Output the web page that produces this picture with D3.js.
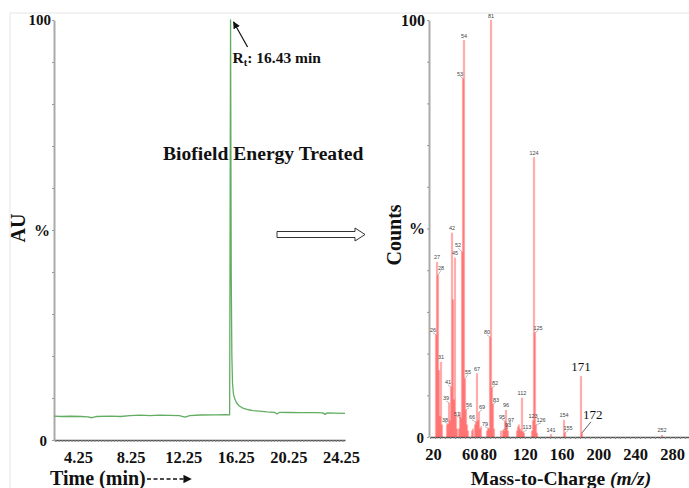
<!DOCTYPE html>
<html>
<head>
<meta charset="utf-8">
<script src="https://cdn.jsdelivr.net/npm/d3@7"></script>
<style>
  body { margin: 0; background: #fff; }
  svg { display: block; }
  .serif { font-family: "Liberation Serif", "Times New Roman", serif; font-weight: bold; fill: #111; }
</style>
</head>
<body>
<div id="chart"></div>
<script>
// chromatogram (left): time in min, AU %
const timeMin = [2.9, 3.5, 4.13, 5.0, 5.5, 5.81, 6.2, 7.19, 8.0, 8.72, 9.5, 10.26, 11.0, 11.79, 12.5, 12.94, 13.3,
  14.09, 15.24, 16.0, 16.36, 16.43, 16.48, 16.53, 16.58, 16.65, 16.75, 16.9, 17.1, 17.38, 17.8, 18.15, 19.22, 19.8,
  19.99, 20.2, 20.98, 21.75, 22.9, 23.5, 23.67, 23.85, 24.43, 25.2];
const auPercent = [5.7, 5.6, 5.65, 5.6, 5.5, 5.3, 5.6, 5.7, 5.6, 5.8, 5.9, 5.8, 5.9, 5.85, 5.8, 5.45, 5.8,
  5.95, 6.0, 6.05, 6.0, 100, 40, 20, 13.5, 11, 9.8, 8.8, 8.1, 7.6, 7.2, 7.0, 6.7, 6.6,
  6.2, 6.6, 6.55, 6.5, 6.5, 6.45, 6.1, 6.45, 6.4, 6.35];
const timeTickValues = [4.25, 8.25, 12.25, 16.25, 20.25, 24.25];
const retentionTime = 16.43;

// mass spectrum (right): m/z and relative counts %
const mzValues = [26, 27, 28, 29, 30, 31, 32, 37, 38, 39, 40, 41, 42, 43, 44, 45, 46, 47, 49, 50, 51, 52, 53, 54, 55,
  56, 57, 58, 62, 63, 65, 66, 67, 68, 69, 70, 71, 77, 78, 79, 80, 81, 82, 83, 84, 91, 93, 94, 95, 96, 97, 98,
  107, 108, 109, 110, 111, 112, 113, 114, 122, 123, 124, 125, 126, 127, 141, 154, 155, 171, 172, 252];
const mzCounts = [24.5, 42, 38.8, 16, 5, 18, 3, 3, 3.1, 8.2, 4, 12, 49, 33, 9, 43, 5, 2, 2, 6, 4.5, 44.4, 86, 95.2, 14,
  6.5, 3, 1.5, 1.5, 2, 3, 3.6, 15.3, 4, 6, 2, 2.5, 1.5, 2, 2, 24, 100, 11.8, 7.9, 2, 1.5, 1.7, 1.5, 3.8, 6.5, 3.1, 1.5,
  1.5, 2.5, 3, 2, 1.5, 9.4, 1.2, 1, 1.5, 4, 67.1, 25, 2.9, 1, 0.7, 4.1, 1, 14.6, 1, 0.5];
const mzLabeled = [26, 27, 28, 31, 38, 39, 41, 42, 45, 51, 52, 53, 54, 55, 56, 66, 67, 69, 79, 80, 81, 82, 83,
  93, 95, 96, 97, 112, 113, 123, 124, 125, 126, 141, 154, 155, 252];
const mzBigLabels = [171, 172];
const mzTickValues = [20, 60, 80, 120, 160, 200, 240, 280];

// small label shifts so crowded labels sit like the original
const labelShift = {26: [-3, 0], 28: [3, -3], 38: [-3, 0], 39: [-3, 0], 41: [-3, 0], 51: [-4, 0], 52: [-4, -2],
  53: [-3, 0], 55: [3, -2], 56: [3, 0], 66: [-4, 0], 69: [3, 0], 79: [-4, 0], 80: [-3, 0], 82: [3, 0], 83: [3, 0],
  93: [5, 0], 95: [-3, 0], 97: [4, 0], 113: [4, 0], 125: [3, 0], 126: [5, 0], 155: [3, 0]};

const svg = d3.select('#chart').append('svg')
  .attr('width', 689)
  .attr('height', 488);

const defs = svg.append('defs');
defs.append('marker').attr('id', 'head')
  .attr('viewBox', '0 0 10 10').attr('refX', 9).attr('refY', 5)
  .attr('markerWidth', 6).attr('markerHeight', 6).attr('orient', 'auto')
  .append('path').attr('d', 'M0,0 L10,5 L0,10 z').attr('fill', '#111');

// faint frame of the figure
svg.append('line').attr('x1', 10).attr('x2', 689).attr('y1', 13).attr('y2', 13).attr('stroke', '#e6e6e6');
svg.append('line').attr('x1', 10).attr('x2', 10).attr('y1', 13).attr('y2', 488).attr('stroke', '#e6e6e6');

// ---------- LEFT: chromatogram ----------
const xTime = d3.scaleLinear().domain([2.9, 25.2]).range([54, 345]);
const xTimeLabels = d3.scaleLinear().domain([4.25, 24.25]).range([78, 341]);
const yAU = d3.scaleLinear().domain([0, 100]).range([440, 20]);

const minorTimes = d3.range(3, 25.01, 0.25);
svg.append('g')
  .attr('transform', 'translate(0,440)')
  .call(d3.axisBottom(xTime).tickValues(minorTimes).tickSize(2).tickSizeOuter(0).tickFormat(''))
  .call(g => g.select('.domain').attr('stroke', '#555').attr('stroke-width', 1.3))
  .call(g => g.selectAll('.tick line').attr('stroke', '#888'));

svg.append('g')
  .attr('transform', 'translate(0,440)')
  .call(d3.axisBottom(xTimeLabels).tickValues(timeTickValues).tickSize(0).tickPadding(11).tickFormat(d3.format('.2f')))
  .call(g => g.select('.domain').remove())
  .call(g => g.selectAll('text').attr('class', 'serif').attr('font-size', 16.5).attr('fill', '#111'));

svg.append('g')
  .attr('transform', 'translate(54,0)')
  .call(d3.axisLeft(yAU).tickValues(d3.range(0, 101, 10)).tickSize(2).tickSizeOuter(0).tickFormat(''))
  .call(g => g.select('.domain').attr('stroke', '#aaa').attr('stroke-width', 2))
  .call(g => g.selectAll('.tick line').attr('stroke', '#999'));

svg.append('text').attr('class', 'serif').attr('font-size', 15)
  .attr('x', 51).attr('y', yAU(100) + 5).attr('text-anchor', 'end').text('100');
svg.append('text').attr('class', 'serif').attr('font-size', 15)
  .attr('x', 47).attr('y', yAU(0) + 6).attr('text-anchor', 'end').text('0');
svg.append('text').attr('class', 'serif').attr('font-size', 16)
  .attr('x', 42).attr('y', yAU(50) + 6).attr('text-anchor', 'middle').text('%');
svg.append('text').attr('class', 'serif').attr('font-size', 20)
  .attr('transform', `translate(25,${yAU(50) - 2}) rotate(-90)`).attr('text-anchor', 'middle').text('AU');

const auLine = d3.line().x((d, i) => xTime(timeMin[i])).y(d => yAU(d));
svg.append('path')
  .attr('d', auLine(auPercent))
  .attr('fill', 'none')
  .attr('stroke', '#62ad62')
  .attr('stroke-width', 1.3)
  .attr('stroke-linejoin', 'round');

// retention time note
svg.append('line')
  .attr('x1', xTime(retentionTime) + 17).attr('y1', yAU(100) + 27)
  .attr('x2', xTime(retentionTime) + 3).attr('y2', yAU(100) + 2)
  .attr('stroke', '#111').attr('stroke-width', 1.2).attr('marker-end', 'url(#head)');
const rt = svg.append('text').attr('class', 'serif').attr('font-size', 15.5)
  .attr('x', xTime(retentionTime) + 2).attr('y', 63);
rt.append('tspan').text('R');
rt.append('tspan').attr('font-size', 10.5).attr('dy', 3).text('t');
rt.append('tspan').attr('dy', -3).text(': ' + retentionTime.toFixed(2) + ' min');

svg.append('text').attr('class', 'serif').attr('font-size', 19.6)
  .attr('x', 163).attr('y', 160).text('Biofield Energy Treated');

// hollow arrow between the two panels
svg.append('path')
  .attr('d', 'M277,231.5 L355,231.5 L355,228 L365,234.5 L355,241 L355,237.5 L277,237.5 Z')
  .attr('fill', '#fff').attr('stroke', '#333').attr('stroke-width', 1);

svg.append('text').attr('class', 'serif').attr('font-size', 20)
  .attr('x', 50).attr('y', 485).text('Time (min)');
svg.append('line')
  .attr('x1', 147).attr('x2', 191).attr('y1', 479).attr('y2', 479)
  .attr('stroke', '#111').attr('stroke-width', 1.4).attr('stroke-dasharray', '4,2.5')
  .attr('marker-end', 'url(#head)');

// ---------- RIGHT: mass spectrum ----------
const xMz = d3.scaleLinear().domain([20, 279]).range([430, 689]);
const xMzLabels = d3.scaleLinear().domain([20, 280]).range([433, 672]);
const yMz = d3.scaleLinear().domain([0, 100]).range([437, 20]);

svg.append('g')
  .attr('transform', 'translate(0,437)')
  .call(d3.axisBottom(xMz).tickValues(d3.range(20, 280, 5)).tickSize(2).tickSizeOuter(0).tickFormat(''))
  .call(g => g.select('.domain').attr('stroke', '#555').attr('stroke-width', 1.3))
  .call(g => g.selectAll('.tick line').attr('stroke', '#888'));

svg.append('g')
  .attr('transform', 'translate(0,437)')
  .call(d3.axisBottom(xMzLabels).tickValues(mzTickValues).tickSize(0).tickPadding(11).tickFormat(d3.format('d')))
  .call(g => g.select('.domain').remove())
  .call(g => g.selectAll('text').attr('class', 'serif').attr('font-size', 16.5).attr('fill', '#111'));

svg.append('g')
  .attr('transform', 'translate(429,0)')
  .call(d3.axisLeft(yMz).tickValues(d3.range(0, 101, 10)).tickSize(2).tickSizeOuter(0).tickFormat(''))
  .call(g => g.select('.domain').attr('stroke', '#aaa').attr('stroke-width', 2))
  .call(g => g.selectAll('.tick line').attr('stroke', '#999'));

svg.append('text').attr('class', 'serif').attr('font-size', 16)
  .attr('x', 425).attr('y', yMz(100) + 6).attr('text-anchor', 'end').text('100');
svg.append('text').attr('class', 'serif').attr('font-size', 15)
  .attr('x', 424).attr('y', yMz(0) + 6).attr('text-anchor', 'end').text('0');
svg.append('text').attr('class', 'serif').attr('font-size', 16)
  .attr('x', 417).attr('y', yMz(50) + 5).attr('text-anchor', 'middle').text('%');
svg.append('text').attr('class', 'serif').attr('font-size', 20)
  .attr('transform', `translate(401,235) rotate(-90)`).attr('text-anchor', 'middle').text('Counts');

const peaks = mzValues.map((m, i) => ({ mz: m, v: mzCounts[i] }));

svg.append('g')
  .selectAll('line')
  .data(peaks)
  .join('line')
  .attr('x1', d => xMz(d.mz)).attr('x2', d => xMz(d.mz))
  .attr('y1', yMz(0)).attr('y2', d => yMz(d.v))
  .attr('stroke', 'rgb(255,40,40)')
  .attr('stroke-opacity', 0.38)
  .attr('stroke-width', 2.2);

const labeled = peaks.filter(d => mzLabeled.includes(d.mz));
const lab = svg.append('g').selectAll('g')
  .data(labeled)
  .join('g');
lab.filter(d => labelShift[d.mz])
  .append('line')
  .attr('x1', d => xMz(d.mz) + labelShift[d.mz][0]).attr('y1', d => yMz(d.v) - 2 + labelShift[d.mz][1])
  .attr('x2', d => xMz(d.mz)).attr('y2', d => yMz(d.v))
  .attr('stroke', '#777').attr('stroke-width', 0.5);
lab.append('text')
  .attr('x', d => xMz(d.mz) + (labelShift[d.mz] ? labelShift[d.mz][0] : 0))
  .attr('y', d => yMz(d.v) - 2.5 + (labelShift[d.mz] ? labelShift[d.mz][1] : 0))
  .attr('text-anchor', 'middle')
  .attr('font-family', 'Liberation Sans, Arial, sans-serif')
  .attr('font-size', 5.5)
  .attr('fill', '#444')
  .text(d => d.mz);

const big = peaks.filter(d => mzBigLabels.includes(d.mz));
svg.append('text')
  .attr('x', xMz(big[0].mz)).attr('y', yMz(big[0].v) - 5)
  .attr('text-anchor', 'middle')
  .attr('font-family', 'Liberation Serif, serif').attr('font-size', 13).attr('fill', '#111')
  .text(big[0].mz);
svg.append('line')
  .attr('x1', xMz(big[1].mz)).attr('y1', yMz(big[1].v))
  .attr('x2', xMz(big[1].mz) + 9).attr('y2', yMz(big[1].v) - 11)
  .attr('stroke', '#333').attr('stroke-width', 0.8);
svg.append('text')
  .attr('x', xMz(big[1].mz) + 1).attr('y', yMz(big[1].v) - 14)
  .attr('font-family', 'Liberation Serif, serif').attr('font-size', 13).attr('fill', '#111')
  .text(big[1].mz);

const xTitle = svg.append('text').attr('class', 'serif').attr('font-size', 19.5)
  .attr('x', 561).attr('y', 485).attr('text-anchor', 'middle');
xTitle.append('tspan').text('Mass-to-Charge ');
xTitle.append('tspan').attr('font-style', 'italic').text('(m/z)');
</script>
</body>
</html>
